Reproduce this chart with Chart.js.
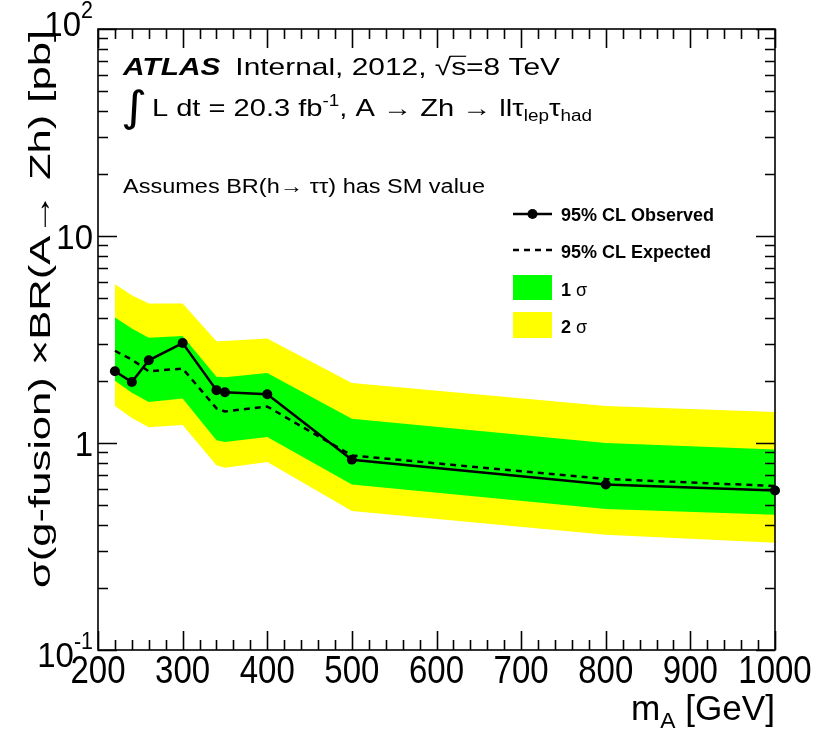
<!DOCTYPE html>
<html>
<head>
<meta charset="utf-8">
<script src="https://cdn.jsdelivr.net/npm/chart.js@4"></script>
<style>
  body { margin: 0; background: #fff; }
  #wrap { width: 819px; height: 736px; }
</style>
</head>
<body>
<div id="wrap"><canvas id="limitChart" width="819" height="736"></canvas></div>
<script>
// mass points and limits (pb)
const massPoints = [220, 240, 260, 300, 340, 350, 400, 500, 800, 1000];
const observed = [2.22, 1.97, 2.51, 3.04, 1.80, 1.76, 1.72, 0.83, 0.63, 0.59];
const expected = [2.79, 2.53, 2.22, 2.29, 1.47, 1.42, 1.50, 0.87, 0.67, 0.62];
const plus1Sigma = [4.04, 3.57, 3.22, 3.29, 2.09, 2.08, 2.18, 1.31, 1.00, 0.93];
const minus1Sigma = [2.00, 1.75, 1.58, 1.64, 1.03, 1.01, 1.07, 0.63, 0.48, 0.45];
const plus2Sigma = [5.85, 5.17, 4.72, 4.72, 3.10, 3.11, 3.20, 1.95, 1.51, 1.41];
const minus2Sigma = [1.51, 1.32, 1.19, 1.22, 0.78, 0.76, 0.81, 0.47, 0.36, 0.33];

// axis ticks
const xTickValues = [200, 300, 400, 500, 600, 700, 800, 900, 1000];
const yDecades = [0.1, 1, 10, 100];
const yDecadeLabels = ['10^-1', '1', '10', '10^2'];

const FONT = '"Liberation Sans", Arial, Helvetica, sans-serif';

const toPoints = vals => vals.map((v, i) => ({ x: massPoints[i], y: v }));

// draw a list of text pieces (super/subscripts etc.) starting at x,y
function drawRich(ctx, segs, x, y, size, opts = {}) {
    const fontFor = s => `${s.style || ''} ${s.weight || ''} ${size * (s.scale || 1)}px ${s.family || FONT}`;
    let total = 0;
    segs.forEach(s => {
        ctx.font = fontFor(s);
        total += ctx.measureText(s.t).width + (s.gap || 0) * size;
    });
    let sx = opts.sx || 1;
    if (opts.width) sx = opts.width / total;
    const sy = opts.sy || 1;
    ctx.save();
    ctx.translate(x, y);
    if (opts.rotate) ctx.rotate(-Math.PI / 2);
    ctx.scale(sx, sy);
    ctx.fillStyle = '#000';
    ctx.textBaseline = 'alphabetic';
    ctx.textAlign = 'left';
    let cx = 0;
    if (opts.align === 'right') cx = -total;
    if (opts.align === 'center') cx = -total / 2;
    segs.forEach(s => {
        ctx.font = fontFor(s);
        const w = ctx.measureText(s.t).width;
        ctx.fillText(s.t, cx, (s.dy || 0) * size);
        if (s.overline) {
            ctx.lineWidth = 1.2;
            ctx.beginPath();
            ctx.moveTo(cx - 1, -0.78 * size);
            ctx.lineTo(cx + w, -0.78 * size);
            ctx.stroke();
        }
        cx += w + (s.gap || 0) * size;
    });
    ctx.restore();
}

const sup = t => ({ t, scale: 0.65, dy: -0.42 });
const sub = t => ({ t, scale: 0.65, dy: 0.22 });

const frameAndLabels = {
    id: 'frameAndLabels',
    afterDatasetsDraw(chart) {
        const ctx = chart.ctx;
        const { left, right, top, bottom } = chart.chartArea;
        const xs = chart.scales.x;
        const ys = chart.scales.y;
        ctx.save();
        ctx.strokeStyle = '#000';
        ctx.lineWidth = 1.6;
        ctx.strokeRect(left, top, right - left, bottom - top);

        // x ticks, bottom and top (every 20 GeV, long every 100)
        ctx.beginPath();
        for (let v = xs.min; v <= xs.max; v += 20) {
            const px = Math.round(xs.getPixelForValue(v)) + 0.5;
            const len = v % 100 === 0 ? 19 : 10;
            ctx.moveTo(px, bottom); ctx.lineTo(px, bottom - len);
            ctx.moveTo(px, top); ctx.lineTo(px, top + len);
        }
        // y ticks, left and right
        yDecades.forEach(d => {
            for (let k = 1; k <= 9; k++) {
                const v = d * k;
                if (v > ys.max * 1.0001) break;
                const py = Math.round(ys.getPixelForValue(v)) + 0.5;
                const len = k === 1 ? 19 : 10;
                ctx.moveTo(left, py); ctx.lineTo(left + len, py);
                ctx.moveTo(right, py); ctx.lineTo(right - len, py);
            }
        });
        ctx.stroke();
        ctx.restore();

        // tick labels
        xTickValues.forEach(v => {
            drawRich(ctx, [{ t: String(v) }], xs.getPixelForValue(v), bottom + 33, 33, { align: 'center', sy: 1.15 });
        });
        yDecades.forEach((d, i) => {
            const py = ys.getPixelForValue(d);
            const parts = yDecadeLabels[i].split('^');
            const segs = [{ t: parts[0] }];
            if (parts[1]) segs.push({ t: parts[1], scale: 0.65, dy: -0.5 });
            let dy = 13;
            if (parts[1] && d === ys.max) dy = 7;
            if (parts[1] && d === ys.min) dy = 17;
            drawRich(ctx, segs, left - 5, py + dy, 33, { align: 'right', sy: 1.08 });
        });
    },
    afterDraw(chart) {
        const ctx = chart.ctx;
        const { right } = chart.chartArea;

        // axis titles
        drawRich(ctx, [{ t: 'm' }, sub('A'), { t: ' [GeV]' }], right, 720, 30, { align: 'right', width: 144, sy: 1.15 });
        drawRich(ctx, [{ t: 'σ(g-fusion) ×BR(A→ Zh) [pb]' }], 50, 30, 30, { rotate: true, align: 'right', width: 558 });

        // ATLAS label block
        drawRich(ctx, [
            { t: 'ATLAS', weight: 'bold', style: 'italic', gap: 0.5 },
            { t: 'Internal, 2012, ' },
            { t: '√' },
            { t: 's', overline: true },
            { t: '=8 TeV' }
        ], 123, 75, 24, { width: 437 });
        drawRich(ctx, [
            { t: '∫', scale: 1.75, dy: 0.2, family: '"DejaVu Sans", sans-serif', gap: 0.15 },
            { t: 'L dt = 20.3 fb' }, sup('-1'),
            { t: ', A → Zh → ll' },
            { t: 'τ' }, sub('lep'), { t: 'τ' }, sub('had')
        ], 121, 116, 24, { width: 471 });
        drawRich(ctx, [{ t: 'Assumes BR(h→ ττ) has SM value' }], 123, 193, 20, { width: 362 });

        // legend
        ctx.save();
        ctx.strokeStyle = '#000';
        ctx.lineWidth = 2.5;
        ctx.beginPath();
        ctx.moveTo(513, 214); ctx.lineTo(552, 214);
        ctx.stroke();
        ctx.beginPath();
        ctx.arc(532.5, 214, 5, 0, Math.PI * 2);
        ctx.fillStyle = '#000';
        ctx.fill();
        ctx.setLineDash([6, 5]);
        ctx.beginPath();
        ctx.moveTo(513, 250); ctx.lineTo(552, 250);
        ctx.stroke();
        ctx.fillStyle = '#00ff00';
        ctx.fillRect(513, 275, 39, 25);
        ctx.fillStyle = '#ffff00';
        ctx.fillRect(513, 312, 39, 26);
        ctx.restore();
        drawRich(ctx, [{ t: '95% CL Observed', weight: 'bold' }], 561, 221, 18);
        drawRich(ctx, [{ t: '95% CL Expected', weight: 'bold' }], 561, 258, 18);
        drawRich(ctx, [{ t: '1 ', weight: 'bold' }, { t: 'σ' }], 561, 296, 18);
        drawRich(ctx, [{ t: '2 ', weight: 'bold' }, { t: 'σ' }], 561, 333, 18);
    }
};

const hidden = 'rgba(0,0,0,0)';

new Chart(document.getElementById('limitChart'), {
    type: 'line',
    data: {
        datasets: [
            {
                label: '95% CL Observed',
                data: toPoints(observed),
                borderColor: '#000',
                borderWidth: 2.5,
                pointRadius: 5,
                pointBackgroundColor: '#000',
                pointBorderWidth: 0,
                fill: false,
                clip: false
            },
            {
                label: '95% CL Expected',
                data: toPoints(expected),
                borderColor: '#000',
                borderWidth: 2.5,
                borderDash: [6, 5],
                pointRadius: 0,
                fill: false
            },
            {
                label: '+1 sigma',
                data: toPoints(plus1Sigma),
                borderColor: hidden,
                backgroundColor: '#00ff00',
                pointRadius: 0,
                fill: '+1'
            },
            {
                label: '-1 sigma',
                data: toPoints(minus1Sigma),
                borderColor: hidden,
                pointRadius: 0,
                fill: false
            },
            {
                label: '+2 sigma',
                data: toPoints(plus2Sigma),
                borderColor: hidden,
                backgroundColor: '#ffff00',
                pointRadius: 0,
                fill: '+1'
            },
            {
                label: '-2 sigma',
                data: toPoints(minus2Sigma),
                borderColor: hidden,
                pointRadius: 0,
                fill: false
            }
        ]
    },
    options: {
        responsive: false,
        animation: false,
        layout: { padding: { left: 98, right: 44, top: 29, bottom: 86 } },
        elements: { line: { tension: 0 } },
        plugins: {
            legend: { display: false },
            tooltip: { enabled: false }
        },
        scales: {
            x: { type: 'linear', min: 200, max: 1000, display: false },
            y: { type: 'logarithmic', min: 0.1, max: 100, display: false }
        }
    },
    plugins: [frameAndLabels]
});
</script>
</body>
</html>
